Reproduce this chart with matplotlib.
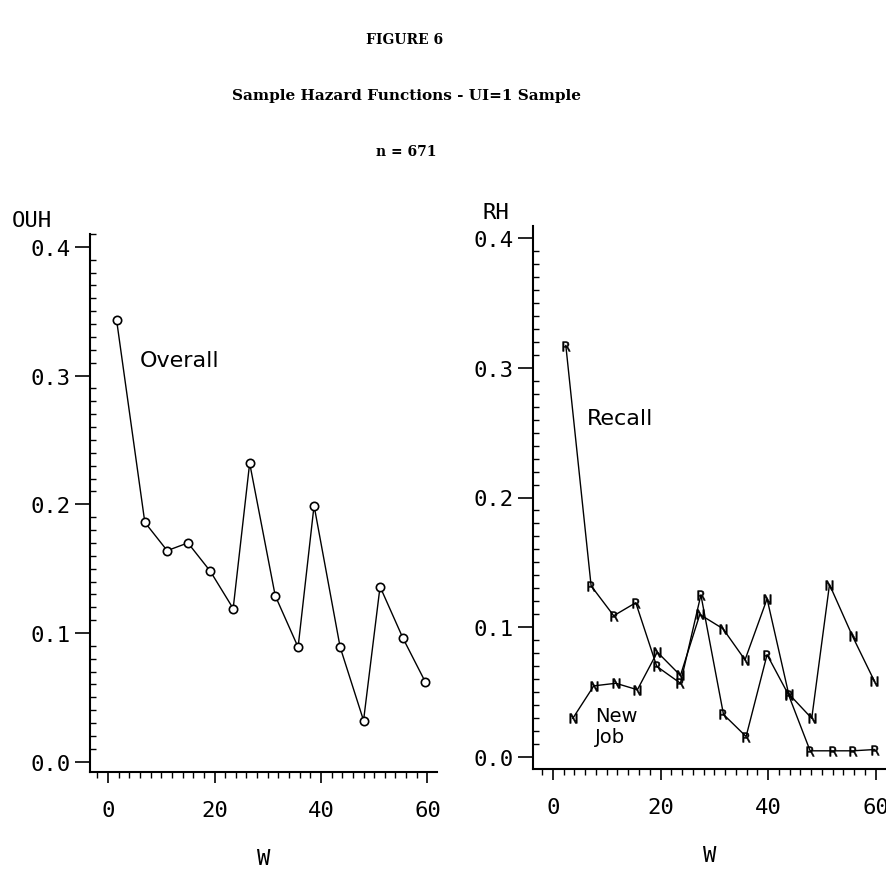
import matplotlib
matplotlib.use("Agg")
import matplotlib.pyplot as plt
from matplotlib.ticker import MultipleLocator, FixedLocator

# values
weeks_overall = [1.6, 6.9, 11.1, 15.0, 19.2, 23.5, 26.6, 31.4, 35.7, 38.7, 43.6, 48.0, 51.1, 55.4, 59.6]
overall = [0.343, 0.186, 0.164, 0.170, 0.148, 0.119, 0.232, 0.129, 0.089, 0.199, 0.089, 0.032, 0.136, 0.096, 0.062]

weeks_recall = [2.4, 7.1, 11.3, 15.4, 19.3, 23.7, 27.5, 31.7, 35.9, 39.8, 43.8, 47.8, 52.0, 55.8, 59.8]
recall = [0.317, 0.132, 0.109, 0.119, 0.070, 0.057, 0.125, 0.033, 0.016, 0.079, 0.048, 0.005, 0.005, 0.005, 0.006]

weeks_newjob = [3.7, 7.6, 11.7, 15.7, 19.4, 23.7, 27.3, 31.6, 35.7, 39.8, 43.8, 48.1, 51.4, 55.7, 59.7]
newjob = [0.030, 0.055, 0.057, 0.052, 0.081, 0.063, 0.110, 0.099, 0.075, 0.122, 0.049, 0.030, 0.133, 0.093, 0.059]

y_ticks = [0.0, 0.1, 0.2, 0.3, 0.4]
y_labels = ["0.0", "0.1", "0.2", "0.3", "0.4"]
x_ticks = [0, 20, 40, 60]
x_labels = ["0", "20", "40", "60"]

W, H = 886, 878
fig = plt.figure(figsize=(W / 100, H / 100), dpi=100)

mono = "DejaVu Sans Mono"
serif = "DejaVu Serif"


def px(x0, y0, x1, y1):
    # pixel box -> figure fraction [left, bottom, width, height]
    return [x0 / W, 1 - y1 / H, (x1 - x0) / W, (y1 - y0) / H]


def style_axes(ax, xlim, ylim):
    ax.set_xlim(*xlim)
    ax.set_ylim(*ylim)
    for s in ("top", "right"):
        ax.spines[s].set_visible(False)
    for s in ("left", "bottom"):
        ax.spines[s].set_linewidth(1.5)
    ax.yaxis.set_major_locator(FixedLocator(y_ticks))
    ax.set_yticklabels(y_labels)
    ax.yaxis.set_minor_locator(MultipleLocator(0.01))
    ax.xaxis.set_major_locator(FixedLocator(x_ticks))
    ax.set_xticklabels(x_labels)
    ax.xaxis.set_minor_locator(MultipleLocator(2))
    ax.tick_params(axis="y", which="major", direction="out", length=11, width=1.2, pad=3)
    ax.tick_params(axis="y", which="minor", direction="in", length=4, width=1.0)
    ax.tick_params(axis="x", which="major", direction="out", length=8, width=1.2, pad=12)
    ax.tick_params(axis="x", which="minor", direction="out", length=4, width=1.0)
    for lab in ax.get_xticklabels() + ax.get_yticklabels():
        lab.set_fontfamily(mono)
        lab.set_fontsize(16)
    ax.set_xlabel("W", fontfamily=mono, fontsize=16, labelpad=20)


# left panel: overall hazard
ax1 = fig.add_axes(px(90, 235, 437, 773))
style_axes(ax1, (-3.4, 61.8), (-0.008, 0.41))
ax1.plot(weeks_overall, overall, color="black", lw=1.0, marker="o", ms=6,
         mfc="white", mec="black", mew=1.2)
ax1.text(6, 0.312, "Overall", fontsize=16, va="center", ha="left")

# right panel: recall and new job hazards
ax2 = fig.add_axes(px(533, 227, 886, 770))
style_axes(ax2, (-3.7, 61.9), (-0.009, 0.409))
ax2.plot(weeks_recall, recall, color="black", lw=1.0, marker=r"$\mathsf{R}$", ms=7, mew=0.4)
ax2.plot(weeks_newjob, newjob, color="black", lw=1.0, marker=r"$\mathsf{N}$", ms=7, mew=0.4)
ax2.text(6.3, 0.261, "Recall", fontsize=16, va="center", ha="left")
ax2.text(7.8, 0.024, "New\nJob", fontsize=14, va="center", ha="left", linespacing=1.1)

# axis captions above the y axes
fig.text(12 / W, 1 - 221 / H, "OUH", fontfamily=mono, fontsize=16, va="center", ha="left")
fig.text(482 / W, 1 - 213 / H, "RH", fontfamily=mono, fontsize=16, va="center", ha="left")

# headings
fig.text(405 / W, 1 - 40 / H, "FIGURE 6", fontfamily=serif, fontsize=10, fontweight="bold",
         ha="center", va="center")
fig.text(407 / W, 1 - 96 / H, "Sample Hazard Functions - UI=1 Sample", fontfamily=serif,
         fontsize=11, fontweight="bold", ha="center", va="center")
fig.text(406 / W, 1 - 152 / H, "n = 671", fontfamily=serif, fontsize=10, fontweight="bold",
         ha="center", va="center")

fig.savefig("out.png", dpi=100)
